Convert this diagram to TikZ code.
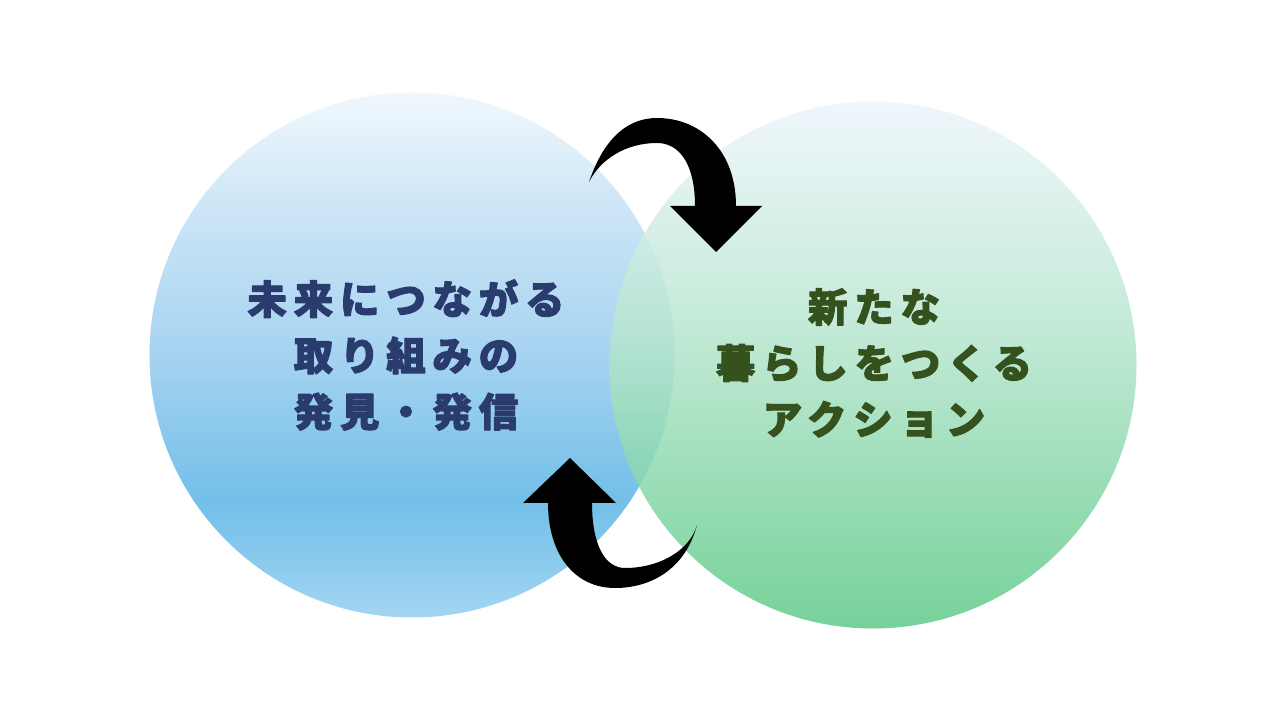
\documentclass[tikz,border=0pt]{standalone}
\usepackage{fontspec}
\newfontfamily\jpfont[LetterSpace=17,BoldFeatures={FakeBold=2.5}]{Noto Sans CJK JP}
\definecolor{lbtop}{HTML}{F1F8FD}
\definecolor{lbmid}{HTML}{A6D3F1}
\definecolor{lbupper}{HTML}{CFE7F7}
\definecolor{lblow}{HTML}{72BFE8}
\definecolor{lbbot}{HTML}{A3D6F3}
\definecolor{rgtop}{HTML}{EEF5FC}
\definecolor{rgmid}{HTML}{BDE8D4}
\definecolor{rglow}{HTML}{8ED9AE}
\definecolor{rgbot}{HTML}{5FCA88}
\definecolor{navytext}{HTML}{2A3B6E}
\definecolor{greentext}{HTML}{35511E}
\pgfdeclareverticalshading{leftshade}{100bp}{color(0bp)=(lbbot); color(25bp)=(lbbot);
  color(36bp)=(lblow); color(50bp)=(lbmid); color(65bp)=(lbupper); color(75bp)=(lbtop); color(100bp)=(lbtop)}
\pgfdeclareverticalshading{rightshade}{100bp}{color(0bp)=(rgbot); color(25bp)=(rgbot);
  color(40bp)=(rglow); color(55bp)=(rgmid); color(75bp)=(rgtop); color(100bp)=(rgtop)}
\begin{document}
\begin{tikzpicture}[line join=round, line cap=round, >=stealth]
	\tikzset{every node/.style={font=\jpfont\bfseries\fontsize{22.5pt}{32pt}\selectfont, align=center},
		bubble/.style={draw=none},
		turnarrow/.style={fill=black, draw=none}}
	\useasboundingbox (0,0) rectangle (25.6,14.4);
	\fill[white] (0,0) rectangle (25.6,14.4);
	\shade[bubble, shading=leftshade] (8.24,7.30) circle (5.25);
	\shade[bubble, shading=rightshade, fill opacity=0.85] (17.46,7.10) circle (5.27);
	\node[text=navytext] (finding) at (8.12,7.30) {未来につながる\\取り組みの\\発見・発信};
	\node[text=greentext] (action) at (17.48,7.14) {新たな\\暮らしをつくる\\アクション};
	\fill[turnarrow] (11.78,10.76) .. controls (12.1,11.7) and (12.6,12.04) .. (13.14,12.04)
		.. controls (14.0,12.04) and (14.72,11.4) .. (14.72,10.28) -- (15.24,10.28) -- (14.32,9.36)
		-- (13.40,10.28) -- (13.90,10.28) .. controls (13.9,11.1) and (13.6,11.54) .. (13.14,11.54)
		.. controls (12.5,11.54) and (12.0,11.2) .. cycle;
	\fill[turnarrow] (11.40,5.24) -- (12.32,4.34) -- (11.84,4.34) .. controls (11.84,3.5) and (12.1,3.04) .. (12.50,3.04)
		.. controls (13.2,3.04) and (13.8,3.4) .. (13.94,3.90) .. controls (13.7,3.0) and (13.0,2.64) .. (12.30,2.64)
		.. controls (11.5,2.64) and (10.96,3.3) .. (10.96,4.34) -- (10.46,4.34) -- cycle;
\end{tikzpicture}
\end{document}
